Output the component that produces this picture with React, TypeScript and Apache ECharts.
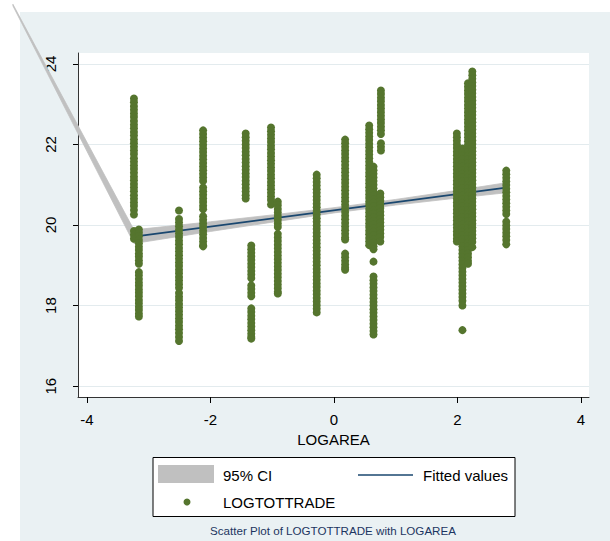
import React, { useEffect, useRef } from "react";
import * as echarts from "echarts";

// LOGAREA value of each vertical strip of observations
const areaValues: number[] = [
  -3.24, -3.16, -2.51, -2.12, -1.43, -1.34, -1.02, -0.91, -0.28, 0.18, 0.57, 0.64,
  0.76, 0.75, 1.99, 2.08, 2.17, 2.24, 2.79,
];

// LOGTOTTRADE values observed at each LOGAREA value above
const tradeValues: number[][] = [
  [23.14, 23.05, 22.95, 22.86, 22.77, 22.68, 22.58, 22.49, 22.4, 22.31, 22.22, 22.12, 22.03, 21.94, 21.85, 21.76, 21.66, 21.57, 21.48, 21.39, 21.3, 21.2, 21.11, 21.02, 20.93, 20.84, 20.74, 20.65, 20.56, 20.47, 20.37, 20.26, 19.85, 19.76, 19.66],
  [19.89, 19.81, 19.72, 19.63, 19.55, 19.46, 19.38, 19.29, 19.21, 19.12, 19.04, 18.83, 18.75, 18.66, 18.57, 18.49, 18.4, 18.32, 18.23, 18.14, 18.06, 17.97, 17.89, 17.8, 17.73],
  [20.36, 20.15, 20.06, 19.97, 19.88, 19.79, 19.7, 19.61, 19.52, 19.43, 19.34, 19.25, 19.16, 19.07, 18.98, 18.89, 18.8, 18.71, 18.62, 18.53, 18.44, 18.31, 18.22, 18.13, 18.04, 17.95, 17.86, 17.77, 17.68, 17.59, 17.5, 17.41, 17.32, 17.22, 17.12],
  [22.35, 22.26, 22.17, 22.08, 21.99, 21.9, 21.81, 21.72, 21.63, 21.54, 21.45, 21.36, 21.27, 21.18, 21.09, 20.93, 20.84, 20.75, 20.66, 20.57, 20.48, 20.39, 20.22, 20.13, 20.04, 19.95, 19.86, 19.77, 19.68, 19.59, 19.5, 19.47],
  [22.27, 22.18, 22.09, 22.0, 21.91, 21.82, 21.73, 21.64, 21.55, 21.46, 21.37, 21.28, 21.19, 21.1, 21.01, 20.92, 20.83, 20.74, 20.66],
  [19.49, 19.4, 19.31, 19.22, 19.13, 19.04, 18.95, 18.86, 18.77, 18.68, 18.5, 18.41, 18.32, 18.23, 17.93, 17.84, 17.75, 17.66, 17.57, 17.48, 17.39, 17.3, 17.22, 17.18],
  [22.42, 22.33, 22.24, 22.15, 22.06, 21.97, 21.88, 21.79, 21.7, 21.61, 21.52, 21.43, 21.34, 21.25, 21.16, 21.07, 20.98, 20.89, 20.8, 20.71, 20.62, 20.51],
  [20.58, 20.49, 20.4, 20.31, 20.22, 20.13, 20.04, 19.95, 19.78, 19.69, 19.6, 19.51, 19.42, 19.33, 19.24, 19.15, 19.06, 18.97, 18.88, 18.79, 18.7, 18.61, 18.52, 18.43, 18.34, 18.3],
  [21.25, 21.16, 21.07, 20.98, 20.89, 20.8, 20.71, 20.62, 20.53, 20.44, 20.35, 20.26, 20.17, 20.08, 19.99, 19.9, 19.81, 19.72, 19.63, 19.54, 19.45, 19.36, 19.27, 19.18, 19.09, 19.0, 18.91, 18.82, 18.73, 18.64, 18.55, 18.46, 18.37, 18.28, 18.19, 18.1, 18.01, 17.92, 17.83],
  [22.12, 22.03, 21.94, 21.85, 21.76, 21.67, 21.58, 21.49, 21.4, 21.31, 21.22, 21.13, 21.04, 20.95, 20.86, 20.77, 20.68, 20.59, 20.5, 20.41, 20.32, 20.23, 20.14, 20.05, 19.96, 19.87, 19.78, 19.69, 19.64, 19.29, 19.2, 19.11, 19.02, 18.94, 18.89],
  [22.47, 22.38, 22.29, 22.2, 22.11, 22.02, 21.93, 21.84, 21.75, 21.66, 21.57, 21.48, 21.39, 21.3, 21.21, 21.12, 21.03, 20.94, 20.85, 20.76, 20.67, 20.58, 20.49, 20.4, 20.31, 20.22, 20.13, 20.04, 19.95, 19.86, 19.77, 19.68, 19.59, 19.5],
  [21.45, 21.36, 21.27, 21.18, 21.09, 21.0, 20.91, 20.82, 20.73, 20.64, 20.55, 20.46, 20.37, 20.28, 20.19, 20.1, 20.01, 19.92, 19.83, 19.74, 19.65, 19.56, 19.47, 19.4, 19.09, 18.72, 18.63, 18.54, 18.45, 18.36, 18.27, 18.18, 18.09, 18.0, 17.91, 17.82, 17.73, 17.64, 17.55, 17.46, 17.37, 17.28],
  [23.34, 23.25, 23.16, 23.07, 22.98, 22.89, 22.8, 22.71, 22.62, 22.53, 22.44, 22.35, 22.26, 22.03, 21.94, 21.85],
  [20.78, 20.69, 20.6, 20.51, 20.42, 20.33, 20.24, 20.15, 20.06, 19.97, 19.88, 19.79, 19.7, 19.59],
  [22.27, 22.18, 22.09, 22.0, 21.91, 21.82, 21.73, 21.64, 21.55, 21.46, 21.37, 21.28, 21.19, 21.1, 21.01, 20.92, 20.83, 20.74, 20.65, 20.56, 20.47, 20.38, 20.29, 20.2, 20.11, 20.02, 19.93, 19.84, 19.75, 19.66, 19.59],
  [21.9, 21.81, 21.72, 21.63, 21.54, 21.45, 21.36, 21.27, 21.18, 21.09, 21.0, 20.91, 20.82, 20.73, 20.64, 20.55, 20.46, 20.37, 20.28, 20.19, 20.1, 20.01, 19.92, 19.83, 19.74, 19.65, 19.56, 19.47, 19.38, 19.29, 19.2, 19.11, 19.02, 18.93, 18.84, 18.75, 18.66, 18.57, 18.48, 18.39, 18.3, 18.21, 18.12, 18.0, 17.39],
  [23.52, 23.43, 23.34, 23.25, 23.16, 23.07, 22.98, 22.89, 22.8, 22.71, 22.62, 22.53, 22.44, 22.35, 22.26, 22.17, 22.08, 21.99, 21.9, 21.81, 21.72, 21.63, 21.54, 21.45, 21.36, 21.27, 21.18, 21.09, 21.0, 20.91, 20.82, 20.73, 20.64, 20.55, 20.46, 20.37, 20.28, 20.19, 20.1, 20.01, 19.92, 19.83, 19.74, 19.65, 19.56, 19.47, 19.38, 19.29, 19.2, 19.11, 19.04],
  [23.81, 23.72, 23.63, 23.54, 23.45, 23.36, 23.27, 23.18, 23.09, 23.0, 22.91, 22.82, 22.73, 22.64, 22.55, 22.46, 22.37, 22.28, 22.19, 22.1, 22.01, 21.92, 21.83, 21.74, 21.65, 21.56, 21.47, 21.38, 21.29, 21.2, 21.11, 21.02, 20.93, 20.84, 20.75, 20.66, 20.57, 20.48, 20.39, 20.3, 20.21, 20.12, 20.03, 19.94, 19.85, 19.76, 19.67, 19.58, 19.45],
  [21.35, 21.26, 21.17, 21.08, 20.99, 20.9, 20.81, 20.72, 20.63, 20.54, 20.45, 20.36, 20.27, 20.08, 19.99, 19.9, 19.81, 19.72, 19.63, 19.52],
];

// Fitted values (linear fit)
const fitX: number[] = [-3.24, 2.79];
const fitY: number[] = [19.71, 20.93];

// 95% confidence interval bounds
const ciX: number[] = [-5.2, -3.24, -2, -1, 0, 1, 2, 2.79];
const ciLo: number[] = [25.44, 19.54, 19.84, 20.07, 20.3, 20.495, 20.67, 20.8];
const ciHi: number[] = [25.48, 19.88, 20.08, 20.25, 20.43, 20.635, 20.86, 21.05];

const xTicks: number[] = [-4, -2, 0, 2, 4];
const yTicks: number[] = [16, 18, 20, 22, 24];

const FONT = "'Liberation Sans', Arial, sans-serif";
const GREEN = "#55752e";
const NAVY = "#1a476f";
const GRAY = "#c0c0c0";

export default function App() {
  const ref = useRef<HTMLDivElement>(null);
  useEffect(() => {
    if (!ref.current) return;
    const chart = echarts.init(ref.current, undefined, { renderer: "svg" });
    const scatterData: number[][] = [];
    areaValues.forEach((x, i) => {
      tradeValues[i].forEach((y) => scatterData.push([x, y]));
    });
    const ciData = ciX.map((x, i) => [x, ciLo[i], ciHi[i]]);
    const fitData = fitX.map((x, i) => [x, fitY[i]]);

    chart.setOption({
      animation: false,
      graphic: [
        {
          type: "rect",
          z: -10,
          silent: true,
          shape: { x: 20, y: 12, width: 590, height: 529 },
          style: { fill: "#eaf1f3" },
        },
        {
          type: "rect",
          z: 10,
          shape: { x: 153, y: 457.5, width: 362, height: 59 },
          style: { fill: "#ffffff", stroke: "#000000", lineWidth: 1 },
        },
        {
          type: "rect",
          z: 11,
          shape: { x: 158, y: 465, width: 56, height: 18 },
          style: { fill: GRAY },
        },
        {
          type: "text",
          z: 11,
          x: 223,
          y: 475,
          style: { text: "95% CI", font: `15px ${FONT}`, fill: "#000", textVerticalAlign: "middle" },
        },
        {
          type: "line",
          z: 11,
          shape: { x1: 358, y1: 475, x2: 413, y2: 475 },
          style: { stroke: NAVY, lineWidth: 1.5 },
        },
        {
          type: "text",
          z: 11,
          x: 423,
          y: 475,
          style: { text: "Fitted values", font: `15px ${FONT}`, fill: "#000", textVerticalAlign: "middle" },
        },
        {
          type: "circle",
          z: 11,
          shape: { cx: 187, cy: 502, r: 3.5 },
          style: { fill: GREEN },
        },
        {
          type: "text",
          z: 11,
          x: 223,
          y: 502,
          style: { text: "LOGTOTTRADE", font: `15px ${FONT}`, fill: "#000", textVerticalAlign: "middle" },
        },
        {
          type: "text",
          z: 11,
          x: 333,
          y: 530,
          style: {
            text: "Scatter Plot of LOGTOTTRADE with LOGAREA",
            font: `11.6px ${FONT}`,
            fill: "#1c3561",
            textAlign: "center",
            textVerticalAlign: "middle",
          },
        },
      ],
      grid: {
        left: 78,
        top: 53,
        right: 21,
        bottom: 144,
        show: true,
        backgroundColor: "#ffffff",
        borderWidth: 0,
        containLabel: false,
      },
      xAxis: {
        type: "value",
        min: -4.146,
        max: 4.13,
        name: "LOGAREA",
        nameLocation: "middle",
        nameGap: 31,
        nameTextStyle: { fontFamily: FONT, fontSize: 15, color: "#000" },
        axisLine: { show: true, onZero: false, lineStyle: { color: "#333", width: 1 } },
        axisTick: { show: true, length: 6, customValues: xTicks, lineStyle: { color: "#000" } },
        axisLabel: { customValues: xTicks, fontFamily: FONT, fontSize: 15, color: "#000", margin: 15 },
        splitLine: { show: false },
      },
      yAxis: {
        type: "value",
        min: 15.73,
        max: 24.27,
        axisLine: { show: true, onZero: false, lineStyle: { color: "#333", width: 1 } },
        axisTick: { show: true, length: 5, customValues: yTicks, lineStyle: { color: "#000" } },
        axisLabel: {
          customValues: yTicks,
          rotate: 90,
          fontFamily: FONT,
          fontSize: 15,
          color: "#000",
          margin: 20,
        },
        splitLine: { show: true, lineStyle: { color: "#e3ebee", width: 1 } },
      },
      series: [
        {
          type: "custom",
          name: "95% CI",
          clip: false,
          z: 1,
          data: ciData,
          encode: { x: 0, y: [1, 2] },
          renderItem: (params: any, api: any) => {
            if (params.dataIndex !== 0) return null;
            const upper = ciX.map((x, i) => api.coord([x, ciHi[i]]));
            const lower = ciX.map((x, i) => api.coord([x, ciLo[i]])).reverse();
            return {
              type: "polygon",
              shape: { points: upper.concat(lower) },
              style: { fill: GRAY, stroke: GRAY, lineWidth: 0.8 },
            };
          },
        },
        {
          type: "line",
          name: "Fitted values",
          z: 2,
          data: fitData,
          showSymbol: false,
          symbol: "none",
          lineStyle: { color: NAVY, width: 1.8 },
        },
        {
          type: "scatter",
          name: "LOGTOTTRADE",
          z: 3,
          data: scatterData,
          symbol: "circle",
          symbolSize: 8,
          itemStyle: { color: GREEN, opacity: 1 },
        },
      ],
    });
    return () => chart.dispose();
  }, []);
  return (
    <div
      ref={ref}
      style={{ position: "fixed", left: 0, top: 0, width: 610, height: 541, background: "#ffffff" }}
    />
  );
}
